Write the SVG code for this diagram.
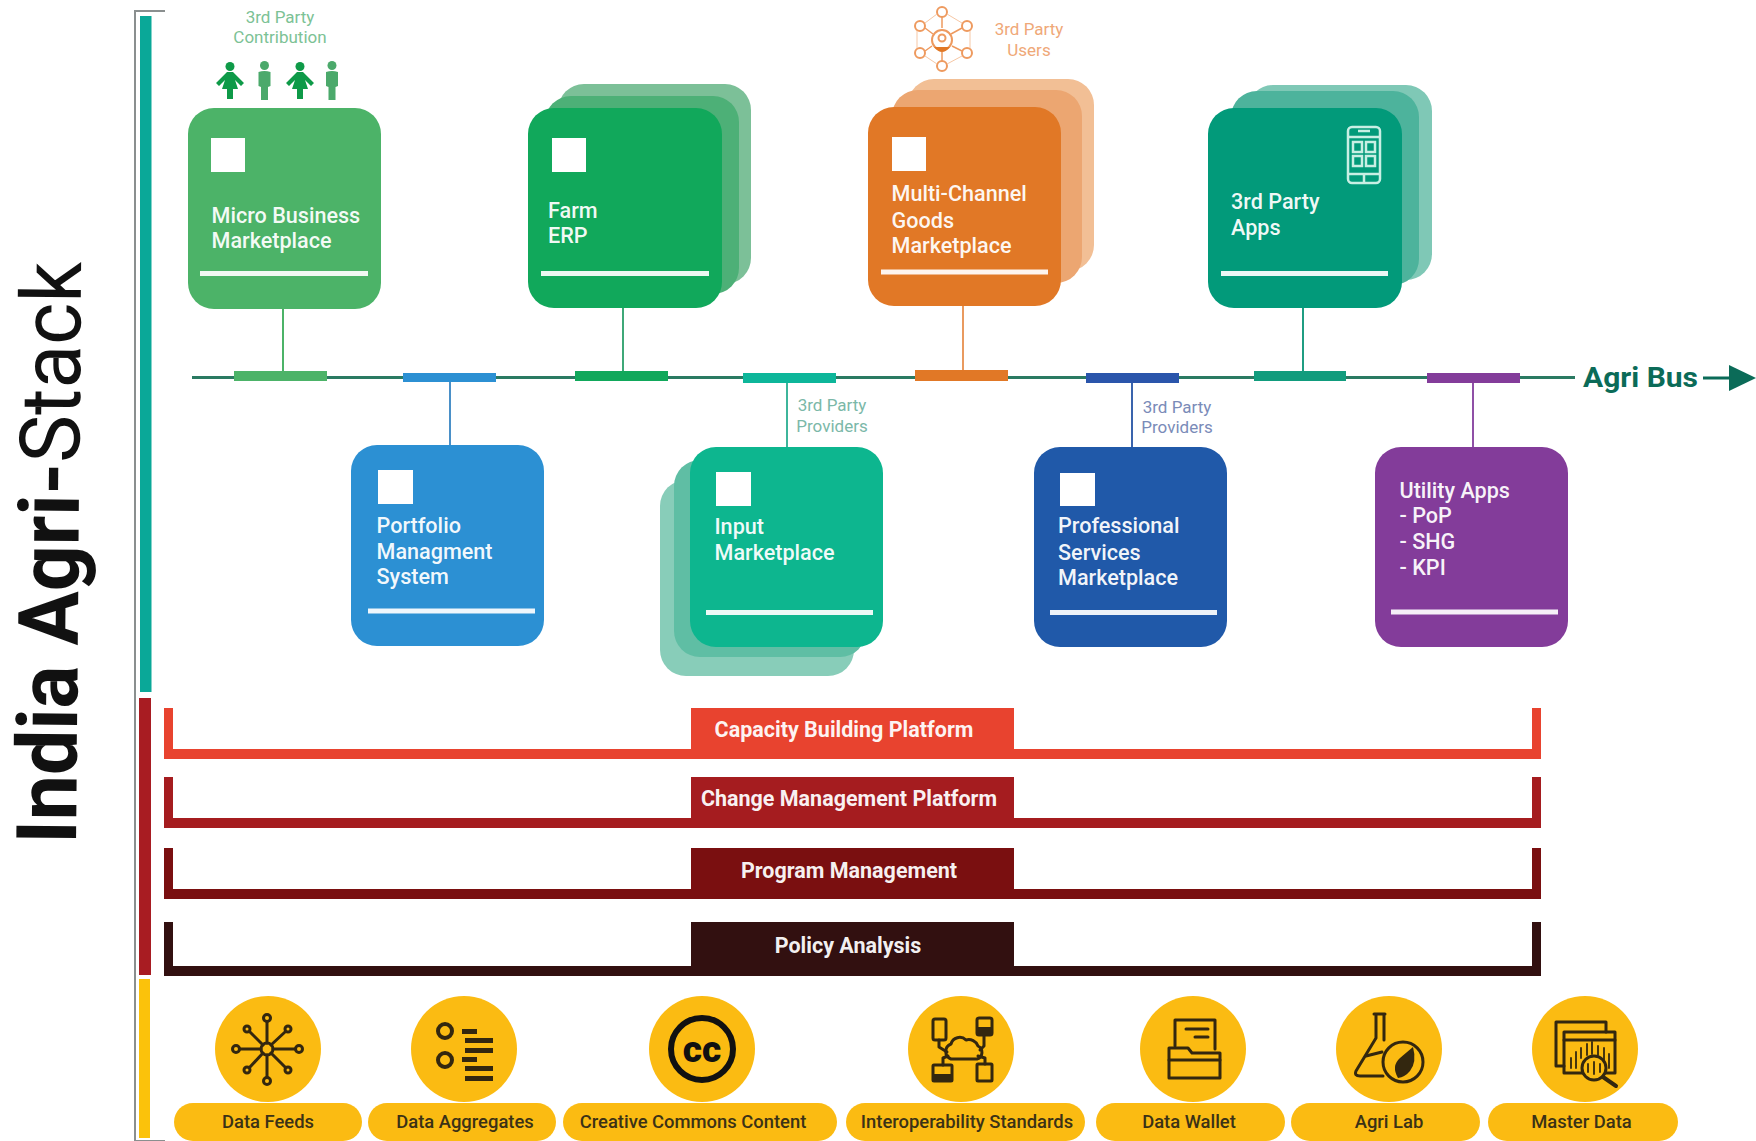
<svg xmlns="http://www.w3.org/2000/svg" width="1756" height="1141" viewBox="0 0 1756 1141">
<style>
text{font-family:Roboto,"Liberation Sans",sans-serif}
.lbl{font-size:21.600px;font-weight:500;fill:#fff;fill-opacity:.95}
.ann{font-size:17px;font-weight:400;text-anchor:middle}
.plat{font-size:21.500px;font-weight:700;fill:#fff;fill-opacity:.95;text-anchor:middle}
.pill{font-size:18.400px;font-weight:500;fill:#3b3216;text-anchor:middle}
.sq{fill:#fff}
.wl{fill:#fff;fill-opacity:.92}
.ic{fill:none;stroke:#33270f;stroke-width:3;stroke-linecap:round;stroke-linejoin:round}
.icf{fill:#33270f}
.y{fill:#fbbb12}
</style>
<defs>
<marker id="busArrow" markerUnits="userSpaceOnUse" markerWidth="28" markerHeight="30" refX="1" refY="15" orient="auto"><polygon points="0,2 27,15 0,28" fill="#0b6b58"/></marker>
<g id="woman"><circle cx="0" cy="4.500" r="4.500"/><path d="M-3,10H3L14,21 11,24 5,18 8,27H3V37H-3V27H-8L-5,18-11,24-14,21Z"/></g>
<g id="man"><circle cx="0" cy="4.500" r="4.500"/><path d="M-6,11Q0,9 6,11V25L3.500,26V39H-3.500V26L-6,25Z"/></g>
</defs>

<g id="frame">
<path d="M165,11H135V1141H165" fill="none" stroke="#8a8f8f" stroke-width="2"/>
<rect x="140" y="16" width="11.500" height="676" fill="#0aa898"/>
<rect x="139" y="698" width="12" height="277" fill="#a81c22"/>
<rect x="139" y="979" width="11" height="159" fill="#fbc20b"/>
</g>

<g id="title"><text transform="translate(76,844) rotate(-89.5)" font-size="84" fill="#111" textLength="582" lengthAdjust="spacingAndGlyphs" font-weight="700">India Agri-<tspan font-weight="400">Stack</tspan></text></g>

<g id="connectors" fill="none">
<line x1="192" y1="377.500" x2="1575" y2="377.500" stroke="#2a7a62" stroke-width="3"/>
<line x1="1703" y1="378" x2="1730" y2="378" stroke="#0b6b58" stroke-width="3" marker-end="url(#busArrow)"/>
<line x1="283" y1="309" x2="283" y2="372" stroke="#4cb368" stroke-width="2"/>
<line x1="623" y1="308" x2="623" y2="372" stroke="#3fa878" stroke-width="2"/>
<line x1="963" y1="306" x2="963" y2="371" stroke="#e99a5f" stroke-width="2"/>
<line x1="1303" y1="308" x2="1303" y2="372" stroke="#1f9d82" stroke-width="2"/>
<line x1="450" y1="382" x2="450" y2="445" stroke="#4a90c8" stroke-width="2"/>
<line x1="787" y1="383" x2="787" y2="447" stroke="#3eb59b" stroke-width="2"/>
<line x1="1132" y1="383" x2="1132" y2="447" stroke="#3a64ad" stroke-width="2"/>
<line x1="1473" y1="383" x2="1473" y2="447" stroke="#8f50a6" stroke-width="2"/>
<rect x="234" y="371" width="93" height="10" fill="#4cb368"/>
<rect x="403" y="373" width="93" height="9" fill="#2c90d3"/>
<rect x="575" y="371" width="93" height="10" fill="#11a85b"/>
<rect x="743" y="373" width="93" height="10" fill="#0db69a"/>
<rect x="915" y="370" width="93" height="11" fill="#e17826"/>
<rect x="1086" y="373" width="93" height="10" fill="#2a55ab"/>
<rect x="1254" y="371" width="92" height="10" fill="#119c7d"/>
<rect x="1427" y="373" width="93" height="10" fill="#833c9a"/>
</g>

<text id="agri-bus" x="1583" y="387" font-size="28" font-weight="700" fill="#0b6b58" textLength="115" lengthAdjust="spacingAndGlyphs">Agri Bus</text>

<g id="contribution">
<text class="ann" fill="#7cc295" x="280" y="23">3rd Party</text>
<text class="ann" fill="#7cc295" x="280" y="43">Contribution</text>
<use href="#woman" x="230" y="62" fill="#0e9a48"/>
<use href="#man" x="264.500" y="61" fill="#4ba96b"/>
<use href="#woman" x="300" y="62" fill="#0e9a48"/>
<use href="#man" x="332" y="61" fill="#4ba96b"/>
</g>

<g id="node-micro">
<rect x="188" y="108" width="193" height="201" rx="26" fill="#4cb368"/>
<rect class="sq" x="211" y="138" width="34" height="34"/>
<text class="lbl" x="211.500" y="223">Micro Business</text>
<text class="lbl" x="211.500" y="248">Marketplace</text>
<rect class="wl" x="200" y="271" width="168" height="5"/>
</g>

<g id="node-farm">
<rect x="558" y="84" width="193" height="200" rx="26" fill="#7cc098"/>
<rect x="545" y="96" width="194" height="198" rx="26" fill="#4db077"/>
<rect x="528" y="108" width="194" height="200" rx="26" fill="#11a85b"/>
<rect class="sq" x="552" y="138" width="34" height="34"/>
<text class="lbl" x="548" y="218">Farm</text>
<text class="lbl" x="548" y="243">ERP</text>
<rect class="wl" x="541" y="271" width="168" height="5"/>
</g>

<g id="users">
<g fill="none" stroke="#ee9a5f" stroke-width="2">
<circle cx="942" cy="12" r="5"/><circle cx="920" cy="26" r="5"/><circle cx="967" cy="26" r="5"/><circle cx="920" cy="53" r="5"/><circle cx="967" cy="53" r="5"/><circle cx="942" cy="66" r="5"/>
<circle cx="942" cy="40" r="10"/><circle cx="942" cy="38" r="3.500"/>
<path d="M942,17V28M942,52V61M925,28L933,34M962,28L951,34M925,51L932,46M962,51L952,46" stroke-width="1.500"/>
<path d="M925,23L937,14M947,14L962,23M970,31V48M962,56L947,64M937,64L925,56M917,48V31" stroke="#f6c7a5" stroke-width="1"/>
</g>
<path d="M934,47H950Q946,52 942,52 938,52 934,47Z" fill="#e17826"/>
<text class="ann" fill="#efa878" x="1029" y="35">3rd Party</text>
<text class="ann" fill="#efa878" x="1029" y="56">Users</text>
</g>

<g id="node-goods">
<rect x="908" y="79" width="186" height="192" rx="26" fill="#f2bf95"/>
<rect x="892" y="90" width="190" height="193" rx="26" fill="#eca671"/>
<rect x="868" y="107" width="193" height="199" rx="26" fill="#e17826"/>
<rect class="sq" x="892" y="137" width="34" height="34"/>
<text class="lbl" x="891.500" y="201">Multi-Channel</text>
<text class="lbl" x="891.500" y="228">Goods</text>
<text class="lbl" x="891.500" y="253">Marketplace</text>
<rect class="wl" x="881" y="269.500" width="167" height="5"/>
</g>

<g id="node-apps">
<rect x="1247" y="85" width="185" height="195" rx="26" fill="#7fc8b6"/>
<rect x="1231" y="91" width="188" height="194" rx="26" fill="#4db39c"/>
<rect x="1208" y="108" width="194" height="200" rx="26" fill="#029a7a"/>
<g fill="none" stroke="#c8efe4" stroke-width="2.500">
<rect x="1348" y="127" width="32" height="56" rx="4"/>
<path d="M1348,137H1380M1348,174H1380M1358,131H1370"/>
<rect x="1353" y="142" width="9" height="10"/><rect x="1366" y="142" width="9" height="10"/>
<rect x="1353" y="156" width="9" height="10"/><rect x="1366" y="156" width="9" height="10"/>
<path d="M1364,174V183"/>
</g>
<text class="lbl" x="1231" y="209">3rd Party</text>
<text class="lbl" x="1231" y="235">Apps</text>
<rect class="wl" x="1221" y="271" width="167" height="5"/>
</g>

<g id="node-portfolio">
<rect x="351" y="445" width="193" height="201" rx="26" fill="#2c90d3"/>
<rect class="sq" x="378" y="470" width="35" height="34"/>
<text class="lbl" x="376.500" y="533">Portfolio</text>
<text class="lbl" x="376.500" y="559">Managment</text>
<text class="lbl" x="376.500" y="584">System</text>
<rect class="wl" x="368" y="608.500" width="167" height="5"/>
</g>

<g id="node-input">
<rect x="660" y="480" width="194" height="196" rx="26" fill="#88cdb9"/>
<rect x="674" y="460" width="192" height="197" rx="26" fill="#5fbea4"/>
<rect x="690" y="447" width="193" height="200" rx="26" fill="#0db68f"/>
<rect class="sq" x="716" y="472" width="35" height="34"/>
<text class="lbl" x="714.500" y="534">Input</text>
<text class="lbl" x="714.500" y="560">Marketplace</text>
<rect class="wl" x="706" y="610" width="167" height="5"/>
<text class="ann" fill="#7bb8a8" x="832" y="411">3rd Party</text>
<text class="ann" fill="#7bb8a8" x="832" y="432">Providers</text>
</g>

<g id="node-professional">
<rect x="1034" y="447" width="193" height="200" rx="26" fill="#2059a9"/>
<rect class="sq" x="1060" y="473" width="35" height="33"/>
<text class="lbl" x="1058" y="533">Professional</text>
<text class="lbl" x="1058" y="560">Services</text>
<text class="lbl" x="1058" y="585">Marketplace</text>
<rect class="wl" x="1050" y="610" width="167" height="5"/>
<text class="ann" fill="#7a8bb8" x="1177" y="413">3rd Party</text>
<text class="ann" fill="#7a8bb8" x="1177" y="433">Providers</text>
</g>

<g id="node-utility">
<rect x="1375" y="447" width="193" height="200" rx="26" fill="#833c9a"/>
<text class="lbl" x="1399.500" y="498">Utility Apps</text>
<text class="lbl" x="1399.500" y="523">- PoP</text>
<text class="lbl" x="1399.500" y="549">- SHG</text>
<text class="lbl" x="1399.500" y="575">- KPI</text>
<rect class="wl" x="1391" y="609.500" width="167" height="5"/>
</g>

<g id="platform-capacity" fill="#e8432f">
<path d="M164,708H173V749H691V708H1014V749H1532V708H1541V759H164Z"/>
<text class="plat" x="844" y="737">Capacity Building Platform</text>
</g>
<g id="platform-change" fill="#a51c1f">
<path d="M164,777H173V818H691V777H1014V818H1532V777H1541V828H164Z"/>
<text class="plat" x="849" y="806">Change Management Platform</text>
</g>
<g id="platform-program" fill="#7a0f10">
<path d="M164,848H173V889H691V848H1014V889H1532V848H1541V899H164Z"/>
<text class="plat" x="849" y="878">Program Management</text>
</g>
<g id="platform-policy" fill="#321010">
<path d="M164,922H173V966H691V922H1014V966H1532V922H1541V976H164Z"/>
<text class="plat" x="848" y="953">Policy Analysis</text>
</g>

<g id="res-feeds">
<ellipse class="y" cx="268" cy="1049" rx="53" ry="53"/>
<rect class="y" x="174" y="1103" width="188" height="38" rx="19"/>
<g class="ic"><circle cx="267" cy="1049" r="6"/><path d="M267,1043V1022M267,1055V1077M261,1049H240M273,1049H295M263,1045L250,1032M271,1045L285,1032M263,1053L250,1067M271,1053L285,1067"/>
<circle cx="267" cy="1018" r="3.500"/><circle cx="267" cy="1081" r="3.500"/><circle cx="236" cy="1049" r="3.500"/><circle cx="299" cy="1049" r="3.500"/><circle cx="247" cy="1029" r="3"/><circle cx="288" cy="1029" r="3"/><circle cx="247" cy="1070" r="3"/><circle cx="288" cy="1070" r="3"/></g>
<text class="pill" x="268" y="1128">Data Feeds</text>
</g>

<g id="res-aggregates">
<ellipse class="y" cx="464" cy="1049" rx="53" ry="53"/>
<rect class="y" x="368" y="1103" width="188" height="38" rx="19"/>
<circle cx="445" cy="1031" r="7" fill="none" stroke="#33270f" stroke-width="4"/>
<circle cx="445" cy="1060" r="7" fill="none" stroke="#33270f" stroke-width="4"/>
<rect class="icf" x="462" y="1029" width="15" height="5"/><rect class="icf" x="465" y="1038" width="28" height="5"/><rect class="icf" x="465" y="1048" width="28" height="5"/><rect class="icf" x="462" y="1057" width="15" height="5"/><rect class="icf" x="465" y="1066" width="28" height="5"/><rect class="icf" x="465" y="1076" width="28" height="5"/>
<text class="pill" x="465" y="1128">Data Aggregates</text>
</g>

<g id="res-cc">
<ellipse class="y" cx="702" cy="1049" rx="53" ry="53"/>
<rect class="y" x="563" y="1103" width="274" height="38" rx="19"/>
<circle cx="702" cy="1049" r="31" fill="none" stroke="#111" stroke-width="6"/>
<text x="702" y="1062" font-size="37" font-weight="900" fill="#111" text-anchor="middle">cc</text>
<text class="pill" x="693" y="1128">Creative Commons Content</text>
</g>

<g id="res-interop">
<ellipse class="y" cx="961" cy="1049" rx="53" ry="53"/>
<rect class="y" x="846" y="1103" width="239" height="38" rx="19"/>
<g class="ic" stroke-width="2.500"><path d="M951,1059H977A7,7 0 0 0 978,1046 10,10 0 0 0 966,1040 9,9 0 0 0 951,1044 8,8 0 0 0 951,1059Z"/>
<rect x="933" y="1019" width="13" height="21" rx="2"/><rect x="977" y="1018" width="15" height="17" rx="2"/><rect x="933" y="1065" width="19" height="16" rx="1"/><rect x="977" y="1064" width="15" height="17" rx="1"/>
<path d="M939,1040V1047L947,1052M984,1035V1046L980,1050M943,1065V1058L948,1056M985,1064V1058L978,1056"/></g>
<rect class="icf" x="933" y="1074" width="19" height="7"/><rect class="icf" x="977" y="1027" width="15" height="8"/>
<text class="pill" x="967" y="1128">Interoperability Standards</text>
</g>

<g id="res-wallet">
<ellipse class="y" cx="1193" cy="1049" rx="53" ry="53"/>
<rect class="y" x="1096" y="1103" width="189" height="38" rx="19"/>
<g class="ic"><path d="M1175,1046V1020H1215V1049"/><path d="M1169,1078V1048H1188L1192,1053H1220V1078Z"/><path d="M1169,1060H1220M1186,1029H1208M1195,1037H1208"/></g>
<text class="pill" x="1189" y="1128">Data Wallet</text>
</g>

<g id="res-lab">
<ellipse class="y" cx="1389" cy="1049" rx="53" ry="53"/>
<rect class="y" x="1291" y="1103" width="189" height="38" rx="19"/>
<g class="ic" stroke-width="2.500"><path d="M1374,1014H1385M1376,1014V1038L1356,1071Q1354,1076 1360,1076H1383M1384,1014V1040"/><path d="M1366,1056L1382,1052"/><circle cx="1403" cy="1062" r="20" stroke-width="3"/></g>
<path class="icf" d="M1398,1078Q1391,1066 1400,1058 1407,1052 1413,1047 1417,1062 1410,1071 1405,1077 1398,1078Z"/>
<text class="pill" x="1389" y="1128">Agri Lab</text>
</g>

<g id="res-master">
<ellipse class="y" cx="1585" cy="1049" rx="53" ry="53"/>
<rect class="y" x="1488" y="1103" width="190" height="38" rx="19"/>
<g class="ic" stroke-width="2.500"><path d="M1564,1066H1556V1022H1606V1032"/><rect x="1564" y="1032" width="51" height="41"/><path d="M1564,1040H1615"/><circle cx="1594" cy="1068" r="12" fill="#fbbb12"/><path d="M1603,1077L1616,1086" stroke-width="4"/>
<path d="M1571,1068V1058M1576,1068V1052M1581,1058V1048M1587,1055V1044M1592,1054V1042M1598,1055V1046M1604,1062V1048M1609,1068V1054M1588,1064V1072M1594,1062V1074M1600,1064V1072" stroke-width="1.800"/></g>
<text class="pill" x="1581.500" y="1128">Master Data</text>
</g>
</svg>
